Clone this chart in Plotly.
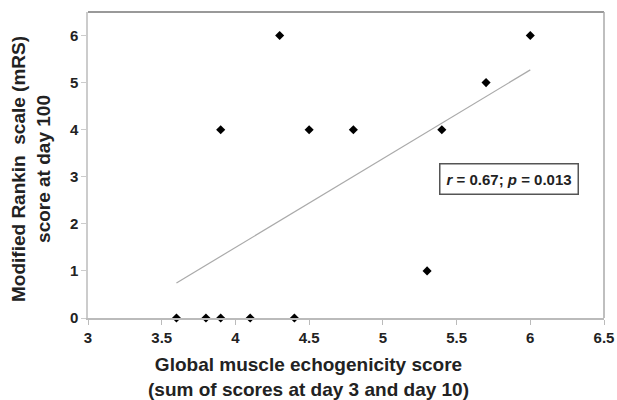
import numpy as np
import plotly.graph_objects as go

echo_score = [3.6, 3.8, 3.9, 4.1, 4.4, 3.9, 4.3, 4.5, 4.8, 5.3, 5.4, 5.7, 6.0]
mrs_score = [0, 0, 0, 0, 0, 4, 6, 4, 4, 1, 4, 5, 6]
x_ticks = [3, 3.5, 4, 4.5, 5, 5.5, 6, 6.5]
x_tick_labels = ["3", "3.5", "4", "4.5", "5", "5.5", "6", "6.5"]
y_ticks = [0, 1, 2, 3, 4, 5, 6]
stat_text = "<i>r</i> = 0.67; <i>p</i> = 0.013"
x_title = "Global muscle echogenicity score<br>(sum of scores at day 3 and day 10)"
y_title = "Modified Rankin &nbsp;scale (mRS)<br>score at day 100"

slope, intercept = np.polyfit(echo_score, mrs_score, 1)
fit_x = [min(echo_score), max(echo_score)]
fit_y = [slope * v + intercept for v in fit_x]

font = "Liberation Sans, Arial, sans-serif"
W, H = 617, 400
L, R, T, B = 88, 13, 12, 82
plot_w = W - L - R
plot_h = H - T - B

fig = go.Figure()
fig.add_trace(go.Scatter(
    x=fit_x, y=fit_y, mode="lines",
    line=dict(color="#aaaaaa", width=1.2), hoverinfo="skip", showlegend=False,
))
fig.add_trace(go.Scatter(
    x=echo_score, y=mrs_score, mode="markers",
    marker=dict(symbol="diamond", size=7, color="black"),
    cliponaxis=False, showlegend=False,
))

tickfont = dict(family=font, size=15, color="#222", weight="bold")
fig.update_layout(
    width=W, height=H,
    margin=dict(l=L, r=R, t=T, b=B, autoexpand=False),
    paper_bgcolor="white", plot_bgcolor="white",
    font=dict(family=font, color="#222", size=13),
    xaxis=dict(
        range=[3, 6.5], tickvals=x_ticks, ticktext=x_tick_labels,
        showgrid=False, zeroline=False, showline=True, linecolor="#bbbbbb", linewidth=1.5,
        ticks="outside", ticklen=5, tickcolor="#bbbbbb", tickfont=tickfont,
    ),
    yaxis=dict(
        range=[0, 6.5], tickvals=y_ticks,
        showgrid=False, zeroline=False, showline=True, linecolor="#cccccc", linewidth=1.5,
        ticks="outside", ticklen=5, tickcolor="#cccccc", tickfont=tickfont,
    ),
    shapes=[
        dict(type="line", xref="paper", yref="paper", x0=0, x1=1, y0=1, y1=1,
             line=dict(color="#777777", width=1.5)),
        dict(type="line", xref="paper", yref="paper", x0=1, x1=1, y0=0, y1=1,
             line=dict(color="#aaaaaa", width=1.5)),
    ],
)

fig.add_annotation(
    x=5.857, y=2.95, xref="x", yref="y", text=stat_text, showarrow=False,
    font=dict(family=font, size=15, color="#222", weight="bold"),
    bordercolor="#555", borderwidth=1.5, borderpad=6, bgcolor="white",
)
fig.add_annotation(
    x=(308 - L) / plot_w, y=-(377 - (H - B)) / plot_h, xref="paper", yref="paper",
    text=x_title, showarrow=False, xanchor="center", yanchor="middle",
    font=dict(family=font, size=19, color="#222", weight="bold"),
)
fig.add_annotation(
    x=-(L - 31) / plot_w, y=((H - B) - 169) / plot_h, xref="paper", yref="paper",
    text=y_title, showarrow=False, textangle=-90, xanchor="center", yanchor="middle",
    font=dict(family=font, size=19, color="#222", weight="bold"),
)

fig.write_html(
    "out.html",
    config={"displayModeBar": False},
    post_script="document.body.style.margin='0';document.body.style.overflow='hidden';",
)
